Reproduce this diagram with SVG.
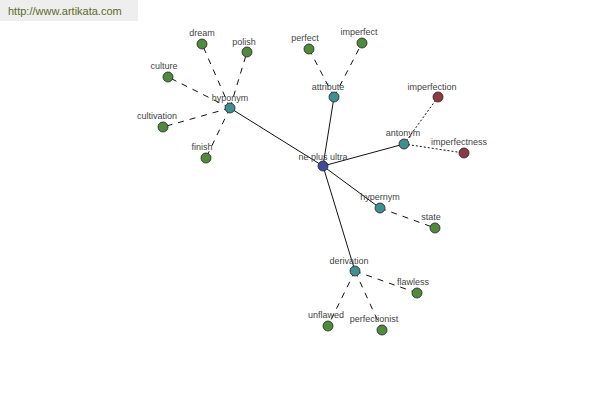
<svg xmlns="http://www.w3.org/2000/svg" width="600" height="400" viewBox="0 0 600 400">
<style>
.lbl{font-family:"Liberation Sans",Arial,sans-serif;font-size:9px;fill:#444;text-anchor:middle}
.n{stroke:#222;stroke-width:0.8}
.c{fill:#3d4c9c}.h{fill:#3f8f8f}.g{fill:#4f8a3d}.r{fill:#8e3a44}
.s{stroke:#111;stroke-width:1;fill:none}
.d{stroke:#111;stroke-width:1;stroke-dasharray:6,6;fill:none}
.o{stroke:#111;stroke-width:1;stroke-dasharray:2,2;fill:none}
</style>
<rect x="0" y="0" width="138" height="21" fill="#eeeeee"/>
<text x="8" y="15" font-family="Liberation Sans,Arial,sans-serif" font-size="11" fill="#5a6b2a">http://www.artikata.com</text>
<g id="connectors">
<line class="s" x1="323" y1="166" x2="230" y2="108"/>
<line class="s" x1="323" y1="166" x2="334" y2="97"/>
<line class="s" x1="323" y1="166" x2="404" y2="144"/>
<line class="s" x1="323" y1="166" x2="380" y2="208"/>
<line class="s" x1="323" y1="166" x2="355" y2="271"/>
<line class="d" x1="230" y1="108" x2="202" y2="44"/>
<line class="d" x1="230" y1="108" x2="247" y2="52"/>
<line class="d" x1="230" y1="108" x2="168" y2="77"/>
<line class="d" x1="230" y1="108" x2="163" y2="127"/>
<line class="d" x1="230" y1="108" x2="206" y2="158"/>
<line class="d" x1="334" y1="97" x2="309" y2="49"/>
<line class="d" x1="334" y1="97" x2="362" y2="43"/>
<line class="o" x1="404" y1="144" x2="438" y2="97"/>
<line class="o" x1="404" y1="144" x2="464" y2="153"/>
<line class="d" x1="380" y1="208" x2="435" y2="228"/>
<line class="d" x1="355" y1="271" x2="417" y2="293"/>
<line class="d" x1="355" y1="271" x2="328" y2="326"/>
<line class="d" x1="355" y1="271" x2="382" y2="330"/>
</g>
<g id="n-center"><circle class="n c" cx="323" cy="166" r="5"/><text class="lbl" x="323" y="160">ne plus ultra</text></g>
<g id="n-hyponym"><circle class="n h" cx="230" cy="108" r="5"/><text class="lbl" x="230" y="101">hyponym</text></g>
<g id="n-attribute"><circle class="n h" cx="334" cy="97" r="5"/><text class="lbl" x="328" y="90">attribute</text></g>
<g id="n-antonym"><circle class="n h" cx="404" cy="144" r="5"/><text class="lbl" x="403" y="136">antonym</text></g>
<g id="n-hypernym"><circle class="n h" cx="380" cy="208" r="5"/><text class="lbl" x="380" y="200">hypernym</text></g>
<g id="n-derivation"><circle class="n h" cx="355" cy="271" r="5"/><text class="lbl" x="349" y="264">derivation</text></g>
<g id="n-dream"><circle class="n g" cx="202" cy="44" r="5"/><text class="lbl" x="202" y="36">dream</text></g>
<g id="n-polish"><circle class="n g" cx="247" cy="52" r="5"/><text class="lbl" x="244" y="45">polish</text></g>
<g id="n-culture"><circle class="n g" cx="168" cy="77" r="5"/><text class="lbl" x="164" y="69">culture</text></g>
<g id="n-cultivation"><circle class="n g" cx="163" cy="127" r="5"/><text class="lbl" x="157" y="119">cultivation</text></g>
<g id="n-finish"><circle class="n g" cx="206" cy="158" r="5"/><text class="lbl" x="202" y="150">finish</text></g>
<g id="n-perfect"><circle class="n g" cx="309" cy="49" r="5"/><text class="lbl" x="305" y="41">perfect</text></g>
<g id="n-imperfect"><circle class="n g" cx="362" cy="43" r="5"/><text class="lbl" x="359" y="35">imperfect</text></g>
<g id="n-imperfection"><circle class="n r" cx="438" cy="97" r="5"/><text class="lbl" x="432" y="90">imperfection</text></g>
<g id="n-imperfectness"><circle class="n r" cx="464" cy="153" r="5"/><text class="lbl" x="459" y="145">imperfectness</text></g>
<g id="n-state"><circle class="n g" cx="435" cy="228" r="5"/><text class="lbl" x="431" y="220">state</text></g>
<g id="n-flawless"><circle class="n g" cx="417" cy="293" r="5"/><text class="lbl" x="413" y="285">flawless</text></g>
<g id="n-unflawed"><circle class="n g" cx="328" cy="326" r="5"/><text class="lbl" x="326" y="318">unflawed</text></g>
<g id="n-perfectionist"><circle class="n g" cx="382" cy="330" r="5"/><text class="lbl" x="374" y="322">perfectionist</text></g>
</svg>
